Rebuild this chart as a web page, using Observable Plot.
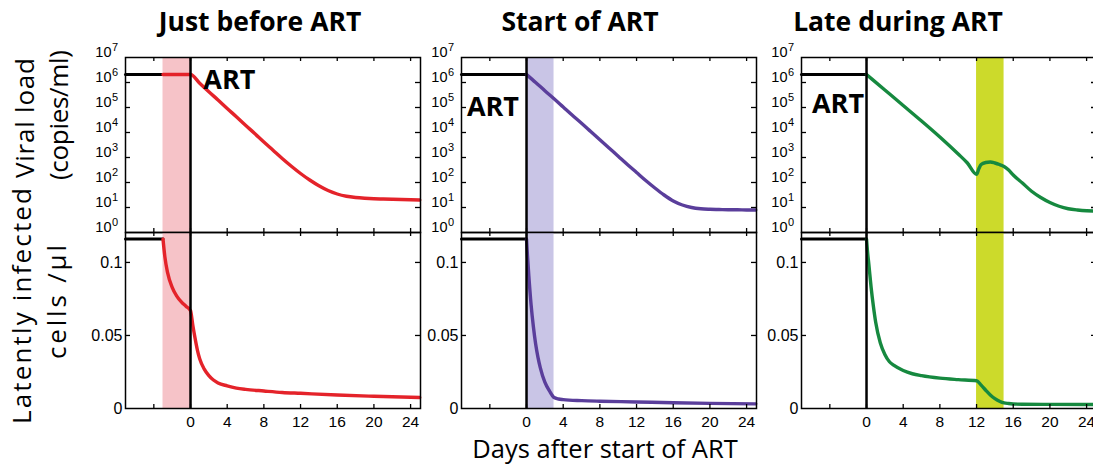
<!DOCTYPE html>
<html>
<head>
<meta charset="utf-8">
<script src="https://cdn.jsdelivr.net/npm/d3@7"></script>
<script src="https://cdn.jsdelivr.net/npm/@observablehq/plot@0.6"></script>
<style>
  html, body { margin: 0; padding: 0; background: #fff; }
  #root { position: relative; width: 1093px; height: 465px; overflow: hidden; background: #fff; }
  #root > svg, #root > div { position: absolute; }
</style>
</head>
<body>
<div id="root"></div>
<script>
// ---------------- data ----------------
const panelTitles = ["Just before ART", "Start of ART", "Late during ART"];
const xTicks = [-4, 0, 4, 8, 12, 16, 20, 24];
const xTickLabels = [0, 4, 8, 12, 16, 20, 24];
const vlDecades = [0, 1, 2, 3, 4, 5, 6, 7];
const latentTicks = [0, 0.05, 0.1];

const preArtLog = 6.32;      // log10 viral load before ART
const preArtLatent = 0.116;  // latently infected cells / µl before ART

// shaded windows (days)
const band1 = [-3, 0];
const band2 = [0, 3];
const band3 = [12, 15];
// day at which the coloured curve takes over from the black pre-ART line
const preEnd = [-3, 0, 0];

// Panel 1: just before ART
const vl1Days = [-3, 0, 1, 2, 3, 4, 5, 6, 7, 8, 9, 10, 11, 12, 13, 14, 15, 16, 17, 18, 19, 20, 21, 22, 23, 24, 25];
const vl1Log  = [6.32, 6.32, 5.97, 5.63, 5.3, 4.96, 4.63, 4.29, 3.96, 3.62, 3.29, 2.96, 2.65, 2.36, 2.1, 1.87, 1.68, 1.54, 1.45, 1.4, 1.37, 1.35, 1.34, 1.33, 1.32, 1.31, 1.3];
const lat1Days = [-3, -2.8, -2.5, -2, -1.5, -1, -0.5, 0, 0.25, 0.5, 0.75, 1, 1.5, 2, 2.5, 3, 4, 5, 6, 8, 10, 12, 16, 20, 25];
const lat1Val  = [0.116, 0.104, 0.093, 0.083, 0.077, 0.073, 0.07, 0.067, 0.057, 0.048, 0.04, 0.034, 0.027, 0.0225, 0.0195, 0.0175, 0.0155, 0.014, 0.0131, 0.012, 0.011, 0.0104, 0.0092, 0.0084, 0.0075];

// Panel 2: start of ART
const vl2Days = [0, 1, 2, 3, 4, 5, 6, 7, 8, 9, 10, 11, 12, 13, 14, 15, 16, 17, 18, 19, 20, 21, 22, 23, 24, 25];
const vl2Log  = [6.32, 6.0, 5.67, 5.35, 5.02, 4.69, 4.37, 4.04, 3.71, 3.38, 3.05, 2.72, 2.4, 2.08, 1.78, 1.5, 1.26, 1.1, 1.0, 0.95, 0.93, 0.92, 0.91, 0.91, 0.9, 0.9];
const lat2Days = [0, 0.1, 0.25, 0.5, 0.75, 1, 1.25, 1.5, 2, 2.5, 3, 3.5, 4, 6, 8, 12, 16, 20, 25];
const lat2Val  = [0.116, 0.105, 0.091, 0.071, 0.056, 0.044, 0.035, 0.028, 0.018, 0.012, 0.0075, 0.0065, 0.0061, 0.0054, 0.005, 0.0045, 0.0039, 0.0035, 0.0032];

// Panel 3: late during ART
const vl3Days = [0, 2, 4, 6, 8, 10, 11, 12, 12.25, 12.5, 13, 13.5, 14, 14.5, 15, 15.5, 16, 17, 18, 19, 20, 21, 22, 23, 24, 25];
const vl3Log  = [6.32, 5.7, 5.08, 4.46, 3.82, 3.14, 2.78, 2.33, 2.55, 2.72, 2.8, 2.82, 2.78, 2.72, 2.64, 2.5, 2.3, 1.98, 1.65, 1.4, 1.2, 1.05, 0.95, 0.9, 0.87, 0.86];
const lat3Days = [0, 0.1, 0.25, 0.5, 0.75, 1, 1.5, 2, 2.5, 3, 4, 5, 6, 8, 10, 12, 12.5, 13, 13.5, 14, 14.5, 15, 15.5, 17, 20, 25];
const lat3Val  = [0.116, 0.108, 0.099, 0.083, 0.07, 0.059, 0.045, 0.037, 0.032, 0.0295, 0.026, 0.0238, 0.0225, 0.0208, 0.0198, 0.019, 0.016, 0.0125, 0.0093, 0.0068, 0.005, 0.0038, 0.0034, 0.0029, 0.0028, 0.0027];

const lineColors = ["#e4232a", "#5a3e9b", "#16893f"];
const bandColors = ["#f6c3c8", "#c9c5e6", "#ccda2b"];

// ---------------- layout ----------------
const X_DOMAIN = [-7.09, 25.08];
const FRAME_W = 295;
const TOP_H = 175, BOT_H = 176;
const ML = 45, MR = 6, MT = 10;
const frameLefts = [125, 461, 801];
const frameTop = 57;
const FONT = "'Liberation Sans', Arial, sans-serif";

const panels = [
  {vlDays: vl1Days, vlLog: vl1Log, latDays: lat1Days, latVal: lat1Val, band: band1, art: {x: 1.4, y: 5.76}},
  {vlDays: vl2Days, vlLog: vl2Log, latDays: lat2Days, latVal: lat2Val, band: band2, art: {x: -6.5, y: 4.68}},
  {vlDays: vl3Days, vlLog: vl3Log, latDays: lat3Days, latVal: lat3Val, band: band3, art: {x: -5.95, y: 4.8}}
];

const root = document.getElementById("root");

function frameTicks(yTickVals, yFn, h) {
  return [
    Plot.tickY(yTickVals, {y: yFn, insetRight: FRAME_W - 5, stroke: "black", strokeWidth: 1.3}),
    Plot.tickY(yTickVals, {y: yFn, insetLeft: FRAME_W - 5, stroke: "black", strokeWidth: 1.3}),
    Plot.tickX(xTicks, {x: d => d, insetBottom: h - 4, stroke: "black", strokeWidth: 1.3}),
    Plot.tickX(xTicks, {x: d => d, insetTop: h - 4, stroke: "black", strokeWidth: 1.3})
  ];
}

panels.forEach((p, i) => {
  const col = lineColors[i];
  const preDays = [X_DOMAIN[0], preEnd[i]];

  // ----- viral load (log scale) -----
  const top = Plot.plot({
    width: ML + FRAME_W + MR,
    height: MT + TOP_H + 2,
    marginLeft: ML, marginRight: MR, marginTop: MT, marginBottom: 2,
    x: {domain: X_DOMAIN, axis: null},
    y: {type: "log", domain: [1, 1e7], axis: null},
    style: {fontFamily: FONT, fontSize: "14px", background: "transparent", overflow: "visible", color: "black"},
    marks: [
      Plot.rect([p.band], {x1: d => d[0], x2: d => d[1], fill: bandColors[i]}),
      Plot.line(preDays, {x: d => d, y: () => 10 ** preArtLog, stroke: "black", strokeWidth: 3}),
      Plot.line(d3.zip(p.vlDays, p.vlLog), {x: d => d[0], y: d => 10 ** d[1], stroke: col, strokeWidth: 3.4, curve: "monotone-x"}),
      Plot.ruleX([0], {stroke: "black", strokeWidth: 2.5}),
      ...frameTicks(vlDecades.slice(1, 7), d => 10 ** d, TOP_H),
      Plot.frame({stroke: "black", strokeWidth: 1.5}),
      Plot.text(vlDecades, {frameAnchor: "left", y: d => 10 ** d, text: () => "10", textAnchor: "end", dx: -14, dy: -5, fontSize: 14.5, fill: "black"}),
      Plot.text(vlDecades, {frameAnchor: "left", y: d => 10 ** d, text: d => String(d), textAnchor: "start", dx: -13.5, dy: -10.5, fontSize: 11, fill: "black"}),
      Plot.text(["ART"], {x: () => p.art.x, y: () => 10 ** p.art.y, text: d => d, textAnchor: "start", lineAnchor: "bottom", fontFamily: "'Open Sans', sans-serif", fontWeight: 700, fontSize: 27, fill: "black"})
    ]
  });
  top.style.left = (frameLefts[i] - ML) + "px";
  top.style.top = (frameTop - MT) + "px";
  root.appendChild(top);

  // ----- latently infected cells (linear) -----
  const bot = Plot.plot({
    width: ML + FRAME_W + MR,
    height: MT + BOT_H + 26,
    marginLeft: ML, marginRight: MR, marginTop: MT, marginBottom: 26,
    x: {domain: X_DOMAIN, axis: null},
    y: {domain: [0, 0.1205], axis: null},
    style: {fontFamily: FONT, fontSize: "15px", background: "transparent", overflow: "visible", color: "black"},
    marks: [
      Plot.rect([p.band], {x1: d => d[0], x2: d => d[1], fill: bandColors[i]}),
      Plot.line(preDays, {x: d => d, y: () => preArtLatent, stroke: "black", strokeWidth: 3}),
      Plot.line(d3.zip(p.latDays, p.latVal), {x: d => d[0], y: d => d[1], stroke: col, strokeWidth: 3.4, curve: "monotone-x"}),
      Plot.ruleX([0], {stroke: "black", strokeWidth: 2.5}),
      ...frameTicks(latentTicks.slice(1), d => d, BOT_H),
      Plot.frame({stroke: "black", strokeWidth: 1.5}),
      Plot.axisY(latentTicks, {tickSize: 0, tickPadding: 3, tickFormat: d => String(d), fontSize: 16, label: null}),
      Plot.axisX(xTickLabels, {tickSize: 0, tickPadding: 7, tickFormat: d => String(d), fontSize: 15.5, label: null})
    ]
  });
  bot.style.left = (frameLefts[i] - ML) + "px";
  bot.style.top = (frameTop + TOP_H - MT) + "px";
  root.appendChild(bot);
});

// ---------------- titles and axis titles ----------------
const overlay = d3.create("svg")
  .attr("width", 1093).attr("height", 465)
  .style("left", "0px").style("top", "0px")
  .style("pointer-events", "none");

const titleX = [260, 580, 898];
panelTitles.forEach((t, i) => {
  overlay.append("text")
    .attr("x", titleX[i]).attr("y", 31)
    .attr("text-anchor", "middle")
    .attr("font-family", "'Open Sans', sans-serif")
    .attr("font-weight", 700).attr("font-size", 26.5)
    .text(t);
});

const yTitles = [
  {t: "Viral load", x: 34, y: 118, len: 120},
  {t: "(copies/ml)", x: 68, y: 115, len: 130},
  {t: "Latently infected", x: 31, y: 306, len: 236},
  {t: "cells /\u03bcl", x: 66, y: 302, len: 114}
];
yTitles.forEach(d => {
  overlay.append("text")
    .attr("transform", `translate(${d.x},${d.y}) rotate(-90)`)
    .attr("text-anchor", "middle")
    .attr("font-family", "'Open Sans', sans-serif")
    .attr("font-size", 26)
    .attr("textLength", d.len)
    .attr("lengthAdjust", "spacing")
    .text(d.t);
});

overlay.append("text")
  .attr("x", 605).attr("y", 458)
  .attr("text-anchor", "middle")
  .attr("font-family", "'Open Sans', sans-serif")
  .attr("font-size", 25.5)
  .text("Days after start of ART");

root.appendChild(overlay.node());
</script>
</body>
</html>
